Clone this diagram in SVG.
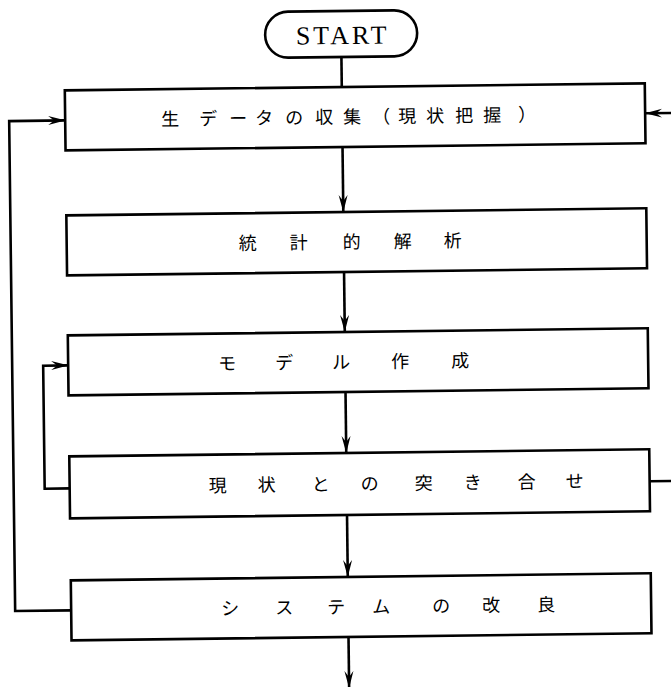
<svg xmlns="http://www.w3.org/2000/svg" width="671" height="687" viewBox="0 0 671 687">
<style>
.box{fill:#fff;stroke:#000;stroke-width:2.6}
.ln{fill:none;stroke:#000;stroke-width:2.6}
.t{font-family:"Noto Sans CJK JP","Noto Sans",sans-serif;font-size:18px;fill:#000;text-anchor:middle}
.s{font-family:"Liberation Serif",serif;font-size:26px;fill:#000;text-anchor:middle;letter-spacing:3px}
</style>
<defs>
<marker id="ah" markerUnits="userSpaceOnUse" viewBox="-17 -5 17 10" refX="0" refY="0" markerWidth="17" markerHeight="10" orient="auto">
<path d="M0,0 L-17,-4.5 L-11,0 L-17,4.5 Z" fill="#000"/>
</marker>
</defs>
<rect width="671" height="687" fill="#fff"/>
<g transform="rotate(-0.7 345 350)">
<g id="connectors">
<line class="ln" x1="345" y1="57" x2="345" y2="87"/>
<line class="ln" x1="345" y1="147" x2="345" y2="212" marker-end="url(#ah)"/>
<line class="ln" x1="345" y1="272" x2="345" y2="332" marker-end="url(#ah)"/>
<line class="ln" x1="345" y1="392" x2="345" y2="453" marker-end="url(#ah)"/>
<line class="ln" x1="345" y1="515" x2="345" y2="577" marker-end="url(#ah)"/>
<line class="ln" x1="345" y1="637" x2="345" y2="688" marker-end="url(#ah)"/>
<polyline class="ln" points="68,607 12,607 12,117 68,117" marker-end="url(#ah)"/>
<polyline class="ln" points="68,485 43,485 43,362 68,362" marker-end="url(#ah)"/>
<line class="ln" x1="648" y1="485" x2="676" y2="485"/>
<line class="ln" x1="676" y1="117" x2="648" y2="117" marker-end="url(#ah)"/>
</g>
<g id="start">
<rect class="box" x="269" y="11" width="152" height="46" rx="23" ry="23"/>
<text class="s" x="346.5" y="44">START</text>
</g>
<g id="collect">
<rect class="box" x="68" y="87" width="580" height="60"/>
<text class="t" x="173 211 241 267 297 327 355 384 410 438 467 495 530" y="123.5">生データの収集（現状把握）</text>
</g>
<g id="analysis">
<rect class="box" x="68" y="212" width="580" height="60"/>
<text class="t" x="249 300 353 404 454" y="248.5">統計的解析</text>
</g>
<g id="model">
<rect class="box" x="68" y="332" width="580" height="60"/>
<text class="t" x="227 284 341 400 460" y="368.5">モデル作成</text>
</g>
<g id="compare">
<rect class="box" x="68" y="453" width="580" height="62"/>
<text class="t" x="216 265 319 368 422 471 525 573" y="490.5">現状との突き合せ</text>
</g>
<g id="improve">
<rect class="box" x="68" y="577" width="580" height="60"/>
<text class="t" x="227 281 333 378 438 488 543" y="613.5">システムの改良</text>
</g>
</g>
</svg>
